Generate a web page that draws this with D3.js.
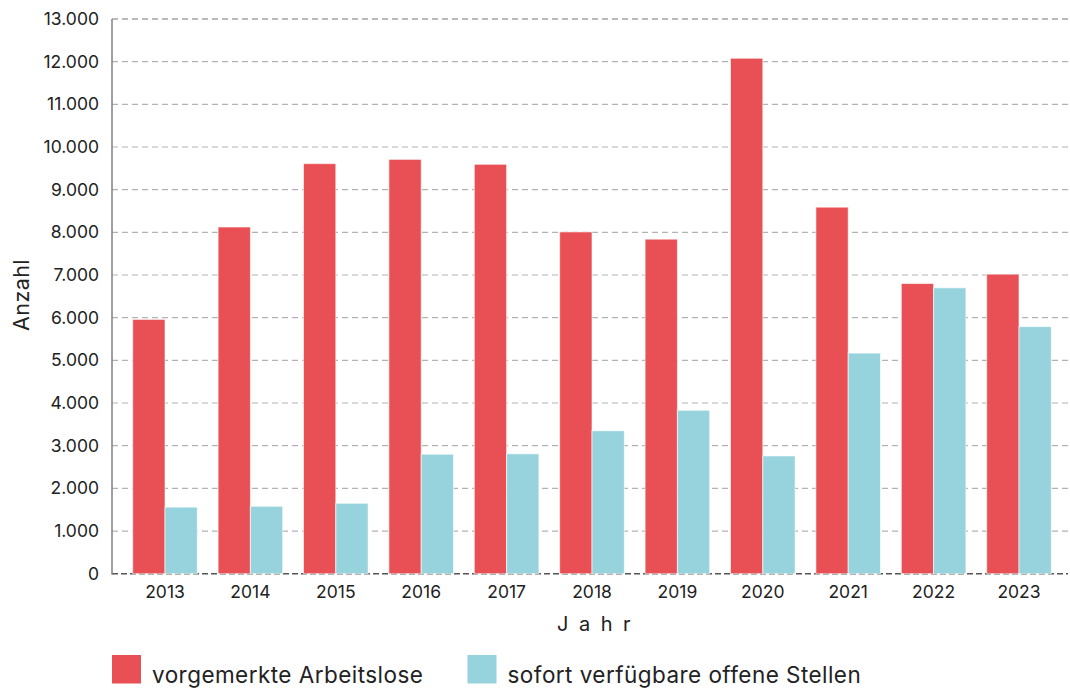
<!DOCTYPE html>
<html><head><meta charset="utf-8">
<script src="https://cdn.jsdelivr.net/npm/d3@7"></script>
<style>
html,body{margin:0;padding:0;background:#fff;}
svg{display:block;font-family:Inter,"Liberation Sans",sans-serif;}
</style></head>
<body>
<svg id="c" width="1070" height="688"></svg>
<script>
const years = ["2013","2014","2015","2016","2017","2018","2019","2020","2021","2022","2023"];
const arbeitslose = [5960, 8125, 9610, 9710, 9595, 8010, 7840, 12080, 8590, 6800, 7020];
const stellen = [1560, 1580, 1650, 2800, 2810, 3350, 3830, 2760, 5170, 6700, 5790];
const seriesNames = ["vorgemerkte Arbeitslose", "sofort verfügbare offene Stellen"];
const seriesColors = ["#E85055", "#97D3DC"];
const yTicks = [0,1000,2000,3000,4000,5000,6000,7000,8000,9000,10000,11000,12000,13000];

(function(){
const svg = d3.select("#c");
const pLeft = 112, pRight = 1068, pTop = 19, pBottom = 573.7;

const y = d3.scaleLinear().domain([0, 13000]).range([pBottom, pTop]);
const x = d3.scaleBand().domain(years).range([pLeft + 2, pRight + 2]).paddingInner(0.2436).paddingOuter(0.219);
const xs = d3.scaleBand().domain([0,1]).range([0, x.bandwidth()]);

const fmt = v => d3.format(",")(v).replace(/,/g, ".");

// gridlines
svg.append("g").selectAll("line").data(yTicks.filter(d => d > 0)).join("line")
  .attr("x1", pLeft).attr("x2", pRight)
  .attr("y1", d => y(d)).attr("y2", d => y(d))
  .attr("stroke", d => d === 13000 ? "#777" : "#b3b3b3")
  .attr("stroke-width", 1.2)
  .attr("stroke-dasharray", "6,4");

// baseline dashed
svg.append("line").attr("x1", pLeft).attr("x2", pRight)
  .attr("y1", y(0)).attr("y2", y(0))
  .attr("stroke", "#555").attr("stroke-width", 1.5).attr("stroke-dasharray", "6,3");

// bars
const data = years.map((yr, i) => ({yr, vals: [arbeitslose[i], stellen[i]]}));
const g = svg.append("g").selectAll("g").data(data).join("g")
  .attr("transform", d => `translate(${x(d.yr)},0)`);
g.selectAll("rect").data(d => d.vals.map((v, k) => ({v, k}))).join("rect")
  .attr("x", d => xs(d.k)).attr("width", xs.bandwidth())
  .attr("y", d => y(d.v)).attr("height", d => y(0) - y(d.v))
  .attr("fill", d => seriesColors[d.k])
  .attr("stroke", "rgba(255,255,255,0.6)").attr("stroke-width", 1);

// y axis line
svg.append("line").attr("x1", pLeft).attr("x2", pLeft).attr("y1", pTop).attr("y2", pBottom + 1)
  .attr("stroke", "#808080").attr("stroke-width", 1.5);

// y tick labels
const yAxis = d3.axisLeft(y).tickValues(yTicks).tickFormat(fmt).tickSize(0).tickPadding(13);
const ya = svg.append("g").attr("transform", `translate(${pLeft},0)`).call(yAxis);
ya.select(".domain").remove();
ya.selectAll("text").attr("font-size", "17.5px").attr("fill", "#222").attr("font-family", "Inter, sans-serif");

// x tick labels
const xAxis = d3.axisBottom(x).tickSize(0).tickPadding(12);
const xa = svg.append("g").attr("transform", `translate(0,${pBottom})`).call(xAxis);
xa.select(".domain").remove();
xa.selectAll("text").attr("font-size", "17.5px").attr("fill", "#222").attr("font-family", "Inter, sans-serif");

// axis titles
svg.append("text").attr("x", 557).attr("y", 630.5).attr("font-size", "20px").attr("fill", "#222")
  .attr("letter-spacing", "10.5px").text("Jahr");
svg.append("text").attr("transform", "translate(29,295) rotate(-90)").attr("text-anchor", "middle")
  .attr("font-size", "21.5px").attr("letter-spacing", "0.4px").attr("fill", "#222").text("Anzahl");

// legend
const legX = [112, 467.5];
const leg = svg.append("g").selectAll("g").data(seriesNames).join("g")
  .attr("transform", (d, i) => `translate(${legX[i]},655)`);
leg.append("rect").attr("width", 29).attr("height", 28.5).attr("fill", (d, i) => seriesColors[i]);
leg.append("text").attr("x", 40).attr("y", 28).attr("font-size", "22.5px").attr("letter-spacing", "0.45px")
  .attr("fill", "#222").text(d => d);
})();
</script>
</body></html>
